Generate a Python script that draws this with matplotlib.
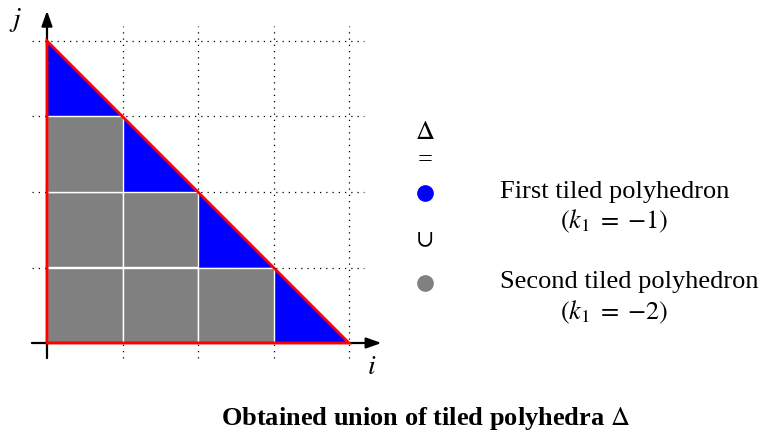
import matplotlib.pyplot as plt
from matplotlib.patches import Polygon, Rectangle

plt.rcParams['font.family'] = ['Liberation Serif', 'DejaVu Serif']
plt.rcParams['mathtext.fontset'] = 'stix'

# Veri: kare hücreler (ikinci döşeme) ve üçgen parçalar (birinci döşeme)
n = 4
gri_kareler = [(0, 0), (1, 0), (2, 0), (0, 1), (1, 1), (0, 2)]
mavi_ucgenler = [(0, 3), (1, 2), (2, 1), (3, 0)]
ana_ucgen = [(0, 0), (n, 0), (0, n)]

legend_semboller = ['$\\Delta$', '=', None, '$\\cup$', None]
legend_yazilar = ['First tiled polyhedron', 'Second tiled polyhedron']
legend_k = ['$(k_1\\;=\\;{-}1)$', '$(k_1\\;=\\;{-}2)$']
baslik = 'Obtained union of tiled polyhedra $\\Delta$'

fig = plt.figure(figsize=(7.62, 4.36), dpi=100)
ax = fig.add_axes([0, 0, 1, 1])
birim = 75.5
ox, oy = 47, 343
ax.set_xlim(-ox / birim, (762 - ox) / birim)
ax.set_ylim((oy - 436) / birim, oy / birim)
ax.axis('off')

# noktalı ızgara
for k in range(1, n + 1):
    ax.plot([-0.2, n + 0.2], [k, k], color='black', lw=0.9, ls=(0, (1, 4)), zorder=1)
    ax.plot([k, k], [-0.2, n + 0.2], color='black', lw=0.9, ls=(0, (1, 4)), zorder=1)

# mavi üçgenler
for (a, b) in mavi_ucgenler:
    ax.add_patch(Polygon([(a, b), (a + 1, b), (a, b + 1)], closed=True,
                         facecolor='#0000ff', edgecolor='#0000ff', lw=0.5, zorder=2))
# gri kareler
for (a, b) in gri_kareler:
    ax.add_patch(Rectangle((a, b), 1, 1, facecolor='#808080', edgecolor='white',
                           lw=1.0, zorder=3))

# eksenler
ok = dict(arrowstyle='-|>,head_length=0.9,head_width=0.32', color='black', lw=1.6,
          shrinkA=0, shrinkB=0)
ax.annotate('', xy=(4.43, 0), xytext=(-0.2, 0), arrowprops=ok, zorder=4)
ax.annotate('', xy=(0, 4.4), xytext=(0, -0.2), arrowprops=ok, zorder=4)

# kırmızı sınır
ax.add_patch(Polygon(ana_ucgen, closed=True, facecolor='none', edgecolor='red',
                     lw=2.0, zorder=5))

ax.text(4.3, -0.33, '$i$', fontsize=20, ha='center', va='center')
ax.text(-0.42, 4.28, '$j$', fontsize=20, ha='center', va='center')

# lejant
def px(x, y):
    return (x - ox) / birim, (oy - y) / birim

sembol_y = [133, 160, 193, 240, 283]
for s, yy in zip(legend_semboller, sembol_y):
    if s is not None:
        ax.text(*px(425, yy), s, fontsize=19, ha='center', va='center')
ax.plot(*px(425, 193), 'o', color='#0000ff', ms=11)
ax.plot(*px(425, 283), 'o', color='#808080', ms=11)

ax.text(*px(500, 192), legend_yazilar[0], fontsize=19, ha='left', va='center')
ax.text(*px(614, 221), legend_k[0], fontsize=19, ha='center', va='center')
ax.text(*px(500, 282), legend_yazilar[1], fontsize=19, ha='left', va='center')
ax.text(*px(614, 312), legend_k[1], fontsize=19, ha='center', va='center')

ax.text(*px(425, 418), baslik, fontsize=19, fontweight='bold', ha='center', va='center')

fig.savefig('out.png', dpi=100)
